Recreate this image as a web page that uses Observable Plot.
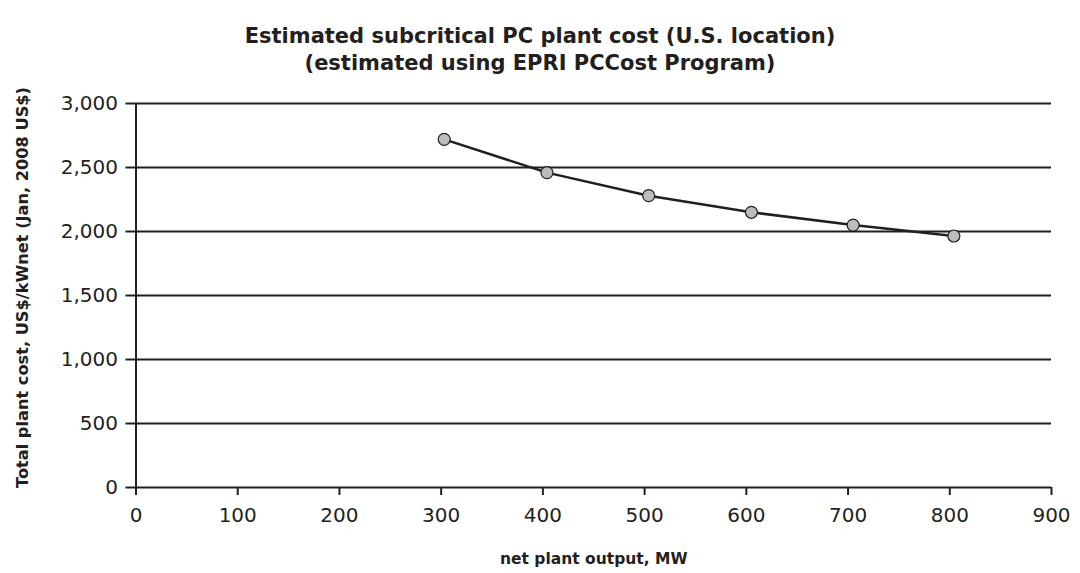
<!DOCTYPE html>
<html>
<head>
<meta charset="utf-8">
<script src="https://cdn.jsdelivr.net/npm/d3@7"></script>
<script src="https://cdn.jsdelivr.net/npm/@observablehq/plot@0.6"></script>
<style>
  html, body { margin: 0; padding: 0; background: #fff; }
  #title { width: 1080px; height: 80px; box-sizing: border-box; padding-top: 23px; text-align: center;
           font-family: "DejaVu Sans", sans-serif; font-weight: bold; font-size: 21px; line-height: 27px; color: #231f20; }
  #chart svg { display: block; overflow: visible; }
</style>
</head>
<body>
<div id="title">Estimated subcritical PC plant cost (U.S. location)<br>(estimated using EPRI PCCost Program)</div>
<div id="chart"></div>
<script>
const netOutputMW = [303, 404, 504, 605, 705, 804];
const plantCost = [2720, 2460, 2280, 2150, 2050, 1965];
const yTicks = [0, 500, 1000, 1500, 2000, 2500, 3000];
const xTicks = [0, 100, 200, 300, 400, 500, 600, 700, 800, 900];
const xTitle = "net plant output, MW";
const yTitle = "Total plant cost, US$/kWnet (Jan, 2008 US$)";

const data = netOutputMW.map((x, i) => ({x, y: plantCost[i]}));
const ink = "#231f20";

const chart = Plot.plot({
  width: 1080,
  height: 493,
  marginTop: 23,
  marginBottom: 86,
  marginLeft: 135.5,
  marginRight: 29,
  style: {fontFamily: "'DejaVu Sans', sans-serif", color: ink, background: "#fff", overflow: "visible"},
  x: {domain: [0, 900]},
  y: {domain: [0, 3000]},
  marks: [
    Plot.gridY(yTicks, {stroke: ink, strokeOpacity: 1, strokeWidth: 2}),
    Plot.ruleX([0], {stroke: ink, strokeWidth: 2}),
    Plot.axisY(yTicks, {tickFormat: d3.format(","), tickSize: 10, tickPadding: 8, fontSize: 20, stroke: ink, strokeWidth: 2, label: null}),
    Plot.axisX(xTicks, {tickFormat: d => d, tickSize: 8, tickPadding: 12, fontSize: 20, stroke: ink, strokeWidth: 2, label: null}),
    Plot.line(data, {x: "x", y: "y", stroke: ink, strokeWidth: 2.5}),
    Plot.dot(data, {x: "x", y: "y", r: 6, fill: "#bcbdc0", stroke: ink, strokeWidth: 1.2}),
    Plot.text([xTitle], {frameAnchor: "bottom", dy: 76, fontSize: 15.5, fontWeight: "bold", fill: ink}),
    Plot.text([yTitle], {frameAnchor: "left", textAnchor: "middle", dx: -113.5, dy: -8, rotate: -90, fontSize: 16.2, fontWeight: "bold", fill: ink})
  ]
});
document.getElementById("chart").appendChild(chart);
</script>
</body>
</html>
